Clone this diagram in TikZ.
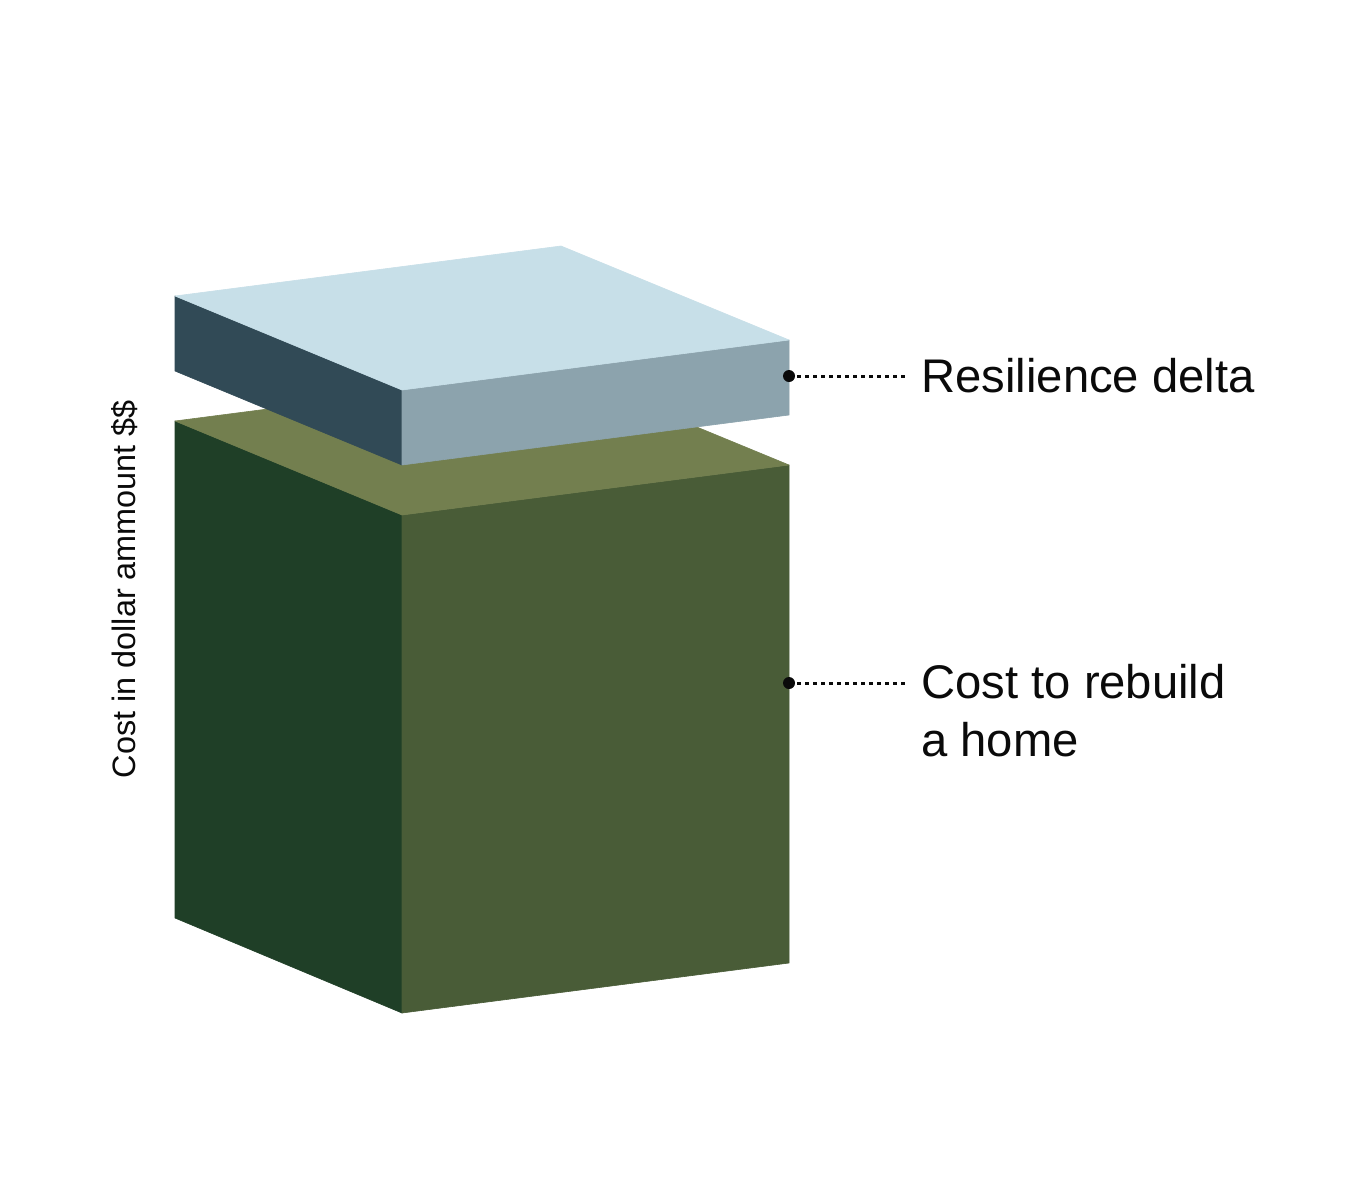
\documentclass[tikz,border=0pt]{standalone}
\usepackage{fontspec}
\setmainfont{Liberation Sans}
\usepackage{tikz}
\usetikzlibrary{positioning, calc}
\definecolor{slabtop}{HTML}{C7DFE8}
\definecolor{slableft}{HTML}{314A56}
\definecolor{slabright}{HTML}{8CA3AD}
\definecolor{boxtop}{HTML}{737F4F}
\definecolor{boxleft}{HTML}{1F3F27}
\definecolor{boxright}{HTML}{495C37}
\definecolor{ink}{HTML}{0A0A0A}
\tikzset{
  face/.style={fill=#1, draw=#1, line width=0.3pt, line join=round},
  dotmark/.style={circle, fill=ink, inner sep=0pt, minimum size=6pt},
  leader/.style={draw=ink, line width=1.5pt, dash pattern=on 2pt off 2pt, shorten <=1pt, shorten >=6.5pt},
  labeltext/.style={anchor=west, inner sep=0pt, align=left, text=ink, font=\fontsize{23.6}{29}\selectfont},
  axislabel/.style={rotate=90, inner sep=0pt, text=ink, font=\fontsize{16.2}{19}\selectfont},
}

\begin{document}
\begin{tikzpicture}[x=0.5pt, y=-0.5pt]
  \fill[white] (0,0) rectangle (1350,1200);
  \useasboundingbox (0,0) rectangle (1350,1200);
  % Cost box
  \path[face=boxleft] (175,421) -- (402,515) -- (402,1013) -- (175,918) -- cycle;
  \path[face=boxright] (402,515) -- (789,465) -- (789,963) -- (402,1013) -- cycle;
  \path[face=boxtop] (175,421) -- (561,371) -- (789,465) -- (402,515) -- cycle;
  % Resilience slab, floating above
  \path[face=slableft] (175,296) -- (402,390) -- (402,465) -- (175,371) -- cycle;
  \path[face=slabright] (402,390) -- (789,340) -- (789,415) -- (402,465) -- cycle;
  \path[face=slabtop] (175,296) -- (561,246) -- (789,340) -- (402,390) -- cycle;

  % Vertical axis label
  \node[axislabel] (axis) at (125,589) {Cost in dollar ammount \$\$};

  % Callouts
  \node[dotmark] (deltadot) at (789,376) {};
  \node[labeltext] (deltalabel) at (921,376) {Resilience delta};
  \node[dotmark] (costdot) at (789,683) {};
  \node[labeltext, anchor=north west] (costlabel) at (921,664) {Cost to rebuild\\a home};

  \draw[leader] (deltadot) -- (deltalabel.west);
  \draw[leader] (costdot) -- (costdot -| costlabel.west);
\end{tikzpicture}
\end{document}
